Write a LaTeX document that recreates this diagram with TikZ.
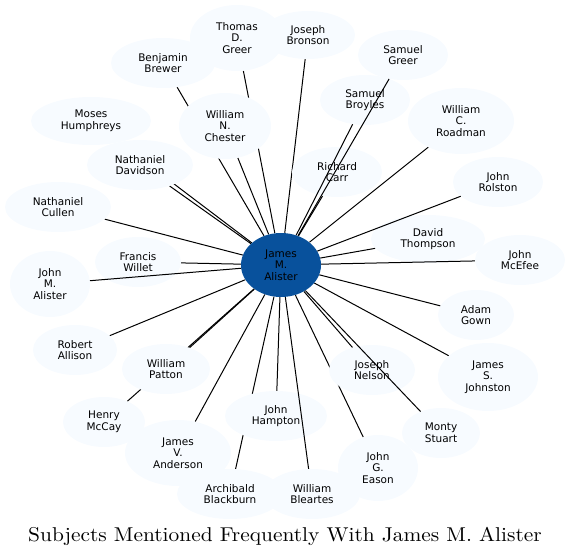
\documentclass[tikz,border=0pt]{standalone}
\usepackage{fontspec}
\newfontfamily\labelfont{DejaVu Sans}
\newfontfamily\titlefont{lmroman10-regular}[Extension=.otf, FakeStretch=1.07]
\usetikzlibrary{shapes.geometric, backgrounds}
\definecolor{leafblue}{HTML}{F7FBFF}
\definecolor{hubblue}{HTML}{08519C}

\begin{document}
\begin{tikzpicture}[
x=1pt, y=-1pt,
every node/.style={font=\labelfont\fontsize{10.5}{11.7}\selectfont},
hub/.style={ellipse, fill=hubblue, inner sep=0pt, align=center, minimum width=80pt, minimum height=64pt},
subject/.style={ellipse, fill=leafblue, inner sep=0pt, align=center, minimum width=90pt, minimum height=50pt},
tall/.style={minimum height=66pt},
link/.style={line width=1pt}
]
\useasboundingbox (0,0) rectangle (570,556);

% Nodes
\node[hub] (alister) at (281,265) {James\\M.\\Alister};
\node[subject, tall, minimum width=94pt] (tgreer) at (237,38) {Thomas\\D.\\Greer};
\node[subject, minimum width=94pt, minimum height=48pt] (bronson) at (308,35) {Joseph\\Bronson};
\node[subject] (sgreer) at (403,55) {Samuel\\Greer};
\node[subject] (broyles) at (365,100) {Samuel\\Broyles};
\node[subject, tall, minimum width=106pt] (roadman) at (461,121) {William\\C.\\Roadman};
\node[subject] (carr) at (337,172) {Richard\\Carr};
\node[subject] (rolston) at (498,182) {John\\Rolston};
\node[subject, minimum width=114pt, minimum height=48pt] (thompson) at (428,239) {David\\Thompson};
\node[subject] (mcefee) at (520,260) {John\\McEfee};
\node[subject, minimum width=76pt] (gown) at (476,315) {Adam\\Gown};
\node[subject, minimum width=100pt, minimum height=68pt] (johnston) at (488,377) {James\\S.\\Johnston};
\node[subject, minimum width=78pt] (stuart) at (441,433) {Monty\\Stuart};
\node[subject, minimum width=86pt] (nelson) at (372,370) {Joseph\\Nelson};
\node[subject, tall, minimum width=80pt] (eason) at (378,468) {John\\G.\\Eason};
\node[subject, minimum width=96pt] (bleartes) at (312,494) {William\\Bleartes};
\node[subject, minimum width=102pt] (hampton) at (276,416) {John\\Hampton};
\node[subject, minimum width=106pt] (blackburn) at (230,494) {Archibald\\Blackburn};
\node[subject, tall, minimum width=106pt] (anderson) at (178,453) {James\\V.\\Anderson};
\node[subject, minimum width=82pt] (mccay) at (104,422) {Henry\\McCay};
\node[subject, minimum width=88pt] (patton) at (166,369) {William\\Patton};
\node[subject, minimum width=84pt] (allison) at (75,350) {Robert\\Allison};
\node[subject, tall, minimum width=80pt] (jalister) at (50,284) {John\\M.\\Alister};
\node[subject, minimum width=86pt] (willet) at (138,262) {Francis\\Willet};
\node[subject, minimum width=106pt] (cullen) at (58,207) {Nathaniel\\Cullen};
\node[subject, minimum width=106pt] (davidson) at (140,165) {Nathaniel\\Davidson};
\node[subject, minimum width=120pt, minimum height=48pt] (humphreys) at (91,121) {Moses\\Humphreys};
\node[subject, tall, minimum width=92pt] (chester) at (225,126) {William\\N.\\Chester};
\node[subject, minimum width=104pt] (brewer) at (163,63) {Benjamin\\Brewer};

\node[font=\titlefont\fontsize{20}{24}\selectfont, anchor=base] (title) at (285,541) {Subjects Mentioned Frequently With James M. Alister};

% Connections
\begin{scope}[on background layer]
\draw[link] (alister) -- (tgreer);
\draw[link] (alister) -- (bronson);
\draw[link] (alister) -- (roadman);
\draw[link] (alister) -- (carr);
\draw[link] (alister) -- (thompson);
\draw[link] (alister) -- (gown);
\draw[link] (alister) -- (johnston);
\draw[link] (alister) -- (nelson);
\draw[link] (alister) -- (eason);
\draw[link] (alister) -- (hampton);
\draw[link] (alister) -- (blackburn);
\draw[link] (alister) -- (anderson);
\draw[link] (alister) -- (mccay);
\draw[link] (alister) -- (patton);
\draw[link] (alister) -- (allison);
\draw[link] (alister) -- (willet);
\draw[link] (alister) -- (cullen);
\draw[link] (alister) -- (davidson);
\draw[link] (alister) -- (humphreys);
\draw[link] (alister) -- (chester);
\draw[link] (alister) -- (brewer);
\end{scope}
\draw[link] (alister) -- (sgreer);
\draw[link] (alister) -- (broyles);
\draw[link] (alister) -- (rolston);
\draw[link] (alister) -- (mcefee);
\draw[link] (alister) -- (stuart);
\draw[link] (alister) -- (bleartes);
\draw[link] (alister) -- (jalister);

\end{tikzpicture}
\end{document}
